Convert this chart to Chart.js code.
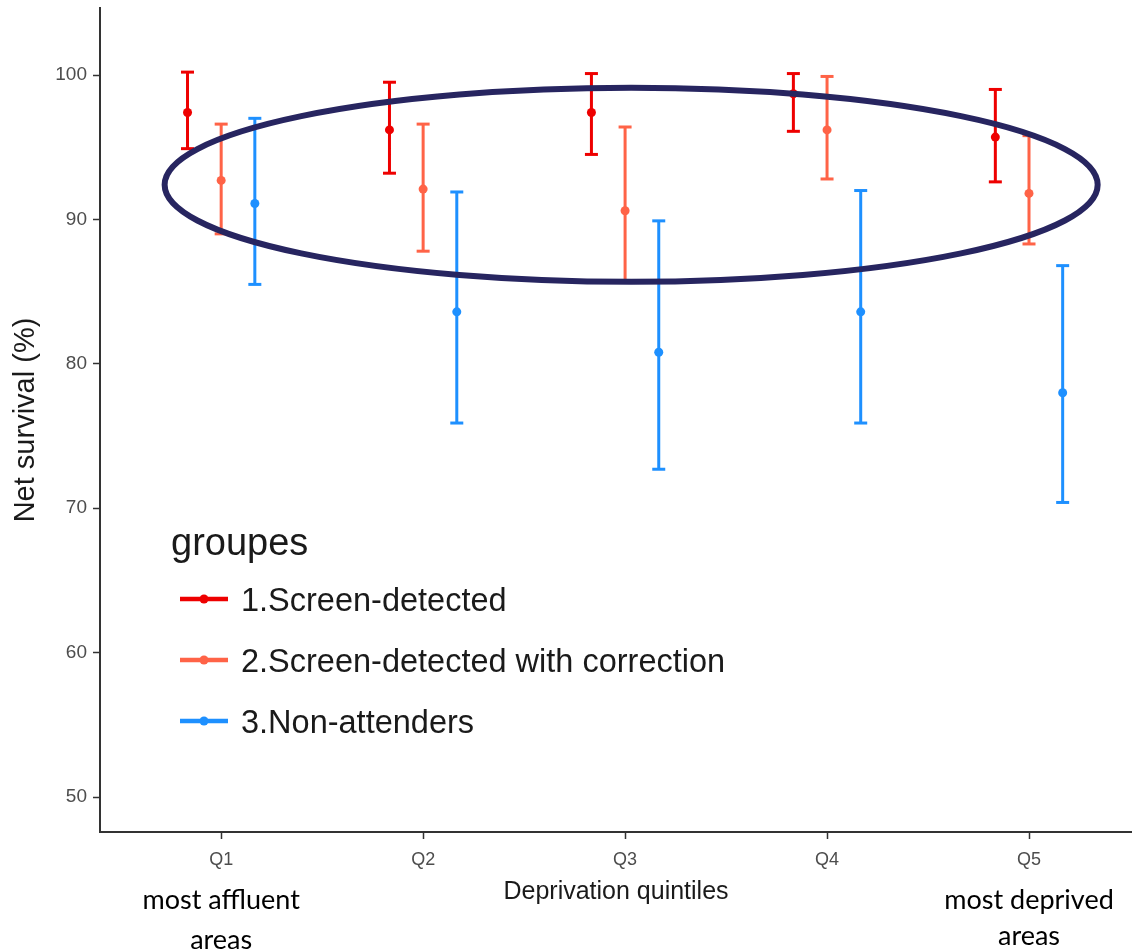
<!DOCTYPE html>
<html lang="en">
<head>
<meta charset="UTF-8">
<title>Net survival by deprivation quintile</title>
<script src="https://cdn.jsdelivr.net/npm/chart.js"></script>
<style>
    body { margin: 0; background: #fff; }
    .grafico { position: relative; width: 1132px; height: 952px; }
</style>
</head>
<body>
<div class="grafico">
    <canvas id="myChart"></canvas>
</div>

<script>
    // values
    const quintiles = ['Q1', 'Q2', 'Q3', 'Q4', 'Q5'];
    const groupNames = ['1.Screen-detected', '2.Screen-detected with correction', '3.Non-attenders'];
    const groupColors = ['#EE0000', '#FF6347', '#1E90FF'];

    const screenEst = [97.4, 96.2, 97.4, 98.7, 95.7];
    const screenLow = [94.9, 93.2, 94.5, 96.1, 92.6];
    const screenHigh = [100.2, 99.5, 100.1, 100.1, 99.0];

    const correctedEst = [92.7, 92.1, 90.6, 96.2, 91.8];
    const correctedLow = [89.0, 87.8, 85.7, 92.8, 88.3];
    const correctedHigh = [96.6, 96.6, 96.4, 99.9, 95.8];

    const nonAttEst = [91.1, 83.6, 80.8, 83.6, 78.0];
    const nonAttLow = [85.5, 75.9, 72.7, 75.9, 70.4];
    const nonAttHigh = [97.0, 91.9, 89.9, 92.0, 86.8];

    const yTicks = [50, 60, 70, 80, 90, 100];
    const xTicks = [1, 2, 3, 4, 5];

    // side notes under the first and last quintile
    const leftNote = ['most affluent', 'areas'];
    const rightNote = ['most deprived', 'areas'];

    // hand drawn ring around the screen-detected results (data units)
    const ring = { x: 3.03, y: 92.4, rx: 2.31, ry: 6.72 };

    const estimates = [screenEst, correctedEst, nonAttEst];
    const lows = [screenLow, correctedLow, nonAttLow];
    const highs = [screenHigh, correctedHigh, nonAttHigh];
    const dodge = [-1 / 6, 0, 1 / 6];

    var datasets = [];
    for (var g = 0; g < 3; g++) {
        var bars = [];
        var pts = [];
        for (var i = 0; i < quintiles.length; i++) {
            var xv = i + 1 + dodge[g];
            bars.push({ x: xv, y: lows[g][i] });
            bars.push({ x: xv, y: highs[g][i] });
            bars.push({ x: xv, y: null });
            pts.push({ x: xv, y: estimates[g][i] });
        }
        // error bar: vertical segment, caps via 'line' point style
        datasets.push({
            label: groupNames[g] + ' CI',
            data: bars,
            showLine: true,
            spanGaps: false,
            borderColor: groupColors[g],
            borderWidth: 3,
            pointStyle: 'line',
            pointRadius: 6.5,
            pointBorderWidth: 3,
            pointBorderColor: groupColors[g]
        });
        datasets.push({
            label: groupNames[g],
            data: pts,
            showLine: false,
            pointStyle: 'circle',
            pointRadius: 4.5,
            pointBorderWidth: 0,
            pointBackgroundColor: groupColors[g]
        });
    }

    const ringPlugin = {
        id: 'ring',
        afterDatasetsDraw(chart) {
            const ctx = chart.ctx;
            const xs = chart.scales.x, ys = chart.scales.y;
            const cx = xs.getPixelForValue(ring.x);
            const cy = ys.getPixelForValue(ring.y);
            const rx = xs.getPixelForValue(ring.x + ring.rx) - cx;
            const ry = cy - ys.getPixelForValue(ring.y + ring.ry);
            ctx.save();
            ctx.beginPath();
            ctx.ellipse(cx, cy, rx, ry, 0, 0, Math.PI * 2);
            ctx.lineWidth = 6;
            ctx.strokeStyle = '#272560';
            ctx.stroke();
            ctx.restore();
        }
    };

    const legendPlugin = {
        id: 'groupLegend',
        afterDraw(chart) {
            const ctx = chart.ctx;
            ctx.save();
            ctx.fillStyle = '#1a1a1a';
            ctx.textBaseline = 'middle';
            ctx.font = '38px "Liberation Sans", Arial, sans-serif';
            ctx.fillText('groupes', 171, 545);
            ctx.font = '32.5px "Liberation Sans", Arial, sans-serif';
            for (var k = 0; k < groupNames.length; k++) {
                var y = 602 + k * 61;
                ctx.strokeStyle = groupColors[k];
                ctx.lineWidth = 4.5;
                ctx.beginPath();
                ctx.moveTo(180, y - 3);
                ctx.lineTo(228, y - 3);
                ctx.stroke();
                ctx.fillStyle = groupColors[k];
                ctx.beginPath();
                ctx.arc(204, y - 3, 4.5, 0, Math.PI * 2);
                ctx.fill();
                ctx.fillStyle = '#1a1a1a';
                ctx.fillText(groupNames[k], 241, y);
            }
            ctx.restore();
        }
    };

    const notesPlugin = {
        id: 'notes',
        afterDraw(chart) {
            const ctx = chart.ctx;
            const xs = chart.scales.x;
            ctx.save();
            ctx.fillStyle = '#000';
            ctx.textAlign = 'center';
            ctx.textBaseline = 'middle';
            ctx.font = '27px Lato, "Open Sans", sans-serif';
            var lx = xs.getPixelForValue(1);
            var rx = xs.getPixelForValue(5);
            ctx.fillText(leftNote[0], lx, 900);
            ctx.fillText(leftNote[1], lx, 940);
            ctx.fillText(rightNote[0], rx, 900);
            ctx.fillText(rightNote[1], rx, 936);
            ctx.restore();
        }
    };

    const config = {
        type: 'scatter',
        data: { datasets: datasets },
        plugins: [ringPlugin, legendPlugin, notesPlugin],
        options: {
            responsive: true,
            maintainAspectRatio: false,
            animation: false,
            layout: { autoPadding: false, padding: { top: 8, right: 0, left: 0, bottom: 0 } },
            plugins: {
                legend: { display: false },
                tooltip: { enabled: false }
            },
            scales: {
                x: {
                    type: 'linear',
                    min: 0.4,
                    max: 5.51,
                    afterBuildTicks: function (s) { s.ticks = xTicks.map(function (v) { return { value: v }; }); },
                    afterFit: function (s) { s.height = 120; s.paddingLeft = 0; s.paddingRight = 0; },
                    ticks: {
                        autoSkip: false,
                        maxRotation: 0,
                        padding: 10,
                        color: '#4D4D4D',
                        font: { family: '"Liberation Sans", Arial, sans-serif', size: 18 },
                        callback: function (v) { return quintiles[v - 1]; }
                    },
                    grid: { drawOnChartArea: false, drawTicks: true, tickLength: 7, tickWidth: 1.5, tickColor: '#333' },
                    border: { display: true, color: '#333', width: 2 },
                    title: {
                        display: true,
                        text: 'Deprivation quintiles',
                        color: '#1a1a1a',
                        font: { family: '"Liberation Sans", Arial, sans-serif', size: 25 },
                        padding: { top: 4, bottom: 45 }
                    }
                },
                y: {
                    type: 'linear',
                    min: 47.58,
                    max: 104.64,
                    afterBuildTicks: function (s) { s.ticks = yTicks.map(function (v) { return { value: v }; }); },
                    afterFit: function (s) { s.width = 100; s.paddingTop = 0; s.paddingBottom = 0; },
                    ticks: {
                        padding: 6,
                        color: '#4D4D4D',
                        font: { family: '"Liberation Sans", Arial, sans-serif', size: 19 }
                    },
                    grid: { drawOnChartArea: false, drawTicks: true, tickLength: 7, tickWidth: 1.5, tickColor: '#333' },
                    border: { display: true, color: '#333', width: 2 },
                    title: {
                        display: true,
                        text: 'Net survival (%)',
                        color: '#1a1a1a',
                        font: { family: '"Liberation Sans", Arial, sans-serif', size: 29 },
                        padding: { top: 9, bottom: 0 }
                    }
                }
            }
        }
    };

    const myChart = new Chart(document.getElementById('myChart'), config);
</script>
</body>
</html>
